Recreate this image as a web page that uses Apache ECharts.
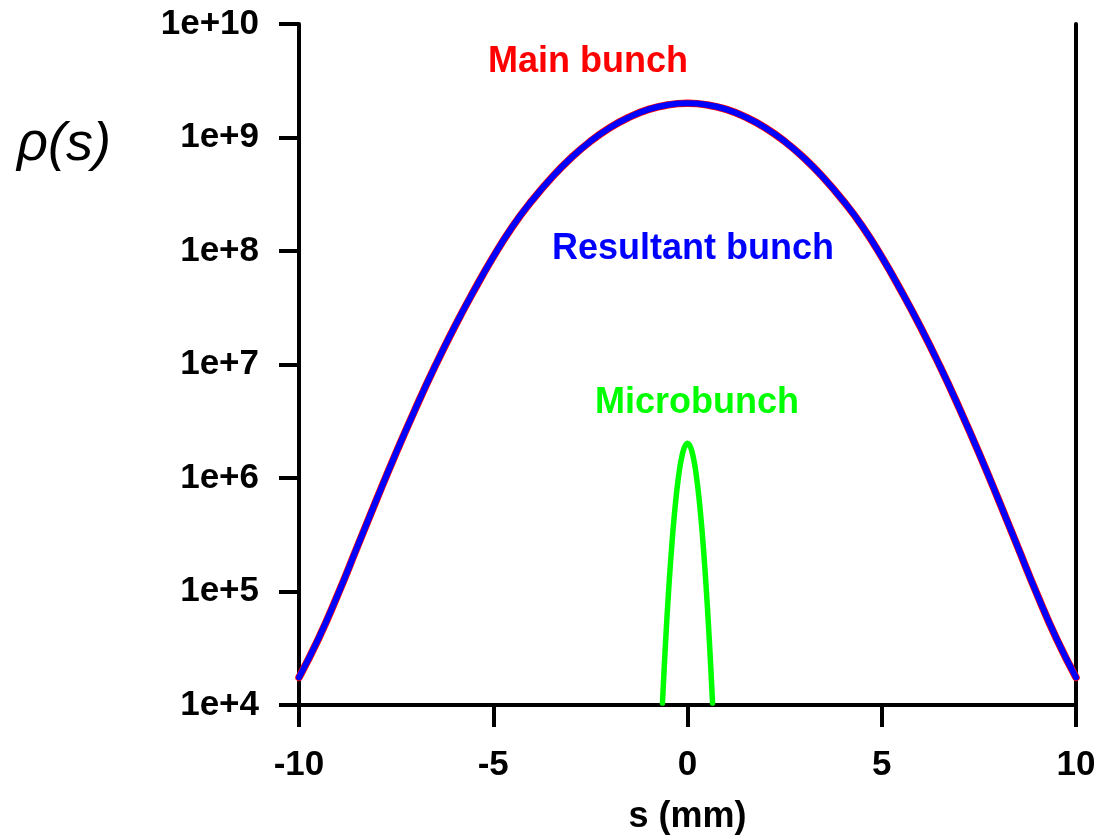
<!DOCTYPE html>
<html>
<head>
<meta charset="utf-8">
<script src="https://cdn.jsdelivr.net/npm/echarts@6/dist/echarts.min.js"></script>
<style>
html,body{margin:0;padding:0;background:#fff;}
#chart{width:1102px;height:837px;}
</style>
</head>
<body>
<div id="chart"></div>
<script>
// s positions (mm)
var sMain = [-10,-9.5,-9,-8.5,-8,-7.5,-7,-6.5,-6,-5.5,-5,-4.5,-4,-3.5,-3,-2.5,-2,-1.5,-1,-0.5,0,0.5,1,1.5,2,2.5,3,3.5,4,4.5,5,5.5,6,6.5,7,7.5,8,8.5,9,9.5,10];
// Main bunch density
var mainBunch = [1.75e4,3.83e4,9.40e4,2.47e5,6.50e5,1.67e6,4.10e6,9.62e6,2.13e7,4.45e7,8.87e7,1.65e8,2.79e8,4.42e8,6.59e8,9.25e8,1.22e9,1.51e9,1.77e9,1.94e9,2.00e9,1.94e9,1.77e9,1.51e9,1.22e9,9.25e8,6.59e8,4.42e8,2.79e8,1.65e8,8.87e7,4.45e7,2.13e7,9.62e6,4.10e6,1.67e6,6.50e5,2.47e5,9.40e4,3.83e4,1.75e4];
// Resultant bunch density (main + microbunch)
var resultantBunch = [1.75e4,3.83e4,9.40e4,2.47e5,6.50e5,1.67e6,4.10e6,9.62e6,2.13e7,4.45e7,8.87e7,1.65e8,2.79e8,4.42e8,6.59e8,9.25e8,1.22e9,1.51e9,1.77e9,1.94e9,2.002e9,1.94e9,1.77e9,1.51e9,1.22e9,9.25e8,6.59e8,4.42e8,2.79e8,1.65e8,8.87e7,4.45e7,2.13e7,9.62e6,4.10e6,1.67e6,6.50e5,2.47e5,9.40e4,3.83e4,1.75e4];
// Microbunch
var sMicro = [-0.645,-0.6,-0.55,-0.5,-0.45,-0.4,-0.35,-0.3,-0.25,-0.2,-0.15,-0.1,-0.05,0,0.05,0.1,0.15,0.2,0.25,0.3,0.35,0.4,0.45,0.5,0.55,0.6,0.645];
var microBunch = [1.04e4,2.11e4,4.38e4,8.51e4,1.55e5,2.66e5,4.28e5,6.46e5,9.14e5,1.22e6,1.52e6,1.78e6,1.95e6,2.02e6,1.95e6,1.78e6,1.52e6,1.22e6,9.14e5,6.46e5,4.28e5,2.66e5,1.55e5,8.51e4,4.38e4,2.11e4,1.04e4];
// Axis ticks
var xTicks = [-10,-5,0,5,10];
var yTickExponents = [4,5,6,7,8,9,10];

function zip(xs, ys){ return xs.map(function(x,i){ return [x, ys[i]]; }); }

var FONT = '"Liberation Sans", Arial, sans-serif';
var chart = echarts.init(document.getElementById('chart'), null, {renderer:'canvas'});
var option = {
  animation: false,
  backgroundColor: '#ffffff',
  grid: {left: 299, right: 26, top: 24, bottom: 132, containLabel: false, outerBoundsMode: 'none'},
  xAxis: {
    type: 'value', min: -10, max: 10, interval: 5,
    name: 's (mm)', nameLocation: 'middle', nameGap: 94,
    nameTextStyle: {fontFamily: FONT, fontWeight: 'bold', fontSize: 36, color: '#000'},
    axisLine: {show: true, onZero: false, lineStyle: {color: '#000', width: 4}},
    axisTick: {show: true, inside: false, length: 22, lineStyle: {color: '#000', width: 4}},
    axisLabel: {margin: 43, fontFamily: FONT, fontWeight: 'bold', fontSize: 35, color: '#000',
      formatter: function(v){ return xTicks.indexOf(v) >= 0 ? String(v) : ''; }},
    splitLine: {show: false}
  },
  yAxis: [{
    type: 'log', logBase: 10, min: Math.pow(10, yTickExponents[0]), max: Math.pow(10, yTickExponents[yTickExponents.length-1]),
    splitNumber: 6,
    axisLine: {show: true, onZero: false, lineStyle: {color: '#000', width: 4}},
    axisTick: {show: true, inside: false, length: 20, lineStyle: {color: '#000', width: 4}},
    axisLabel: {margin: 40, fontFamily: FONT, fontWeight: 'bold', fontSize: 35, color: '#000',
      formatter: function(v){ return '1e+' + Math.round(Math.log10(v)); }},
    splitLine: {show: false}
  },{
    type: 'log', logBase: 10, position: 'right', min: 1e4, max: 1e10,
    axisLine: {show: true, onZero: false, lineStyle: {color: '#000', width: 4}},
    axisTick: {show: false}, axisLabel: {show: false}, splitLine: {show: false}
  }],
  graphic: [
    {type: 'text', left: 17, top: 118, style: {text: 'ρ(s)', font: 'italic 54px ' + FONT, fill: '#000'}},
    {type: 'text', x: 488, y: 62, style: {text: 'Main bunch', font: 'bold 36px ' + FONT, fill: '#ff0000', textVerticalAlign: 'middle', verticalAlign: 'middle'}},
    {type: 'text', x: 552, y: 249, style: {text: 'Resultant bunch', font: 'bold 36px ' + FONT, fill: '#0000ff', textVerticalAlign: 'middle', verticalAlign: 'middle'}},
    {type: 'text', x: 595, y: 403, style: {text: 'Microbunch', font: 'bold 36px ' + FONT, fill: '#00ff00', textVerticalAlign: 'middle', verticalAlign: 'middle'}}
  ],
  series: [
    {name: 'Main bunch', type: 'line', data: zip(sMain, mainBunch), showSymbol: false, smooth: true,
      lineStyle: {color: '#ff0000', width: 7.5, cap: 'round'}, clip: true},
    {name: 'Resultant bunch', type: 'line', data: zip(sMain, resultantBunch), showSymbol: false, smooth: true,
      lineStyle: {color: '#0000ff', width: 6, cap: 'round'}, clip: true},
    {name: 'Microbunch', type: 'line', data: zip(sMicro, microBunch), showSymbol: false, smooth: true,
      lineStyle: {color: '#00ff00', width: 5.5, cap: 'round'}, clip: true}
  ]
};
chart.setOption(option);
</script>
</body>
</html>
